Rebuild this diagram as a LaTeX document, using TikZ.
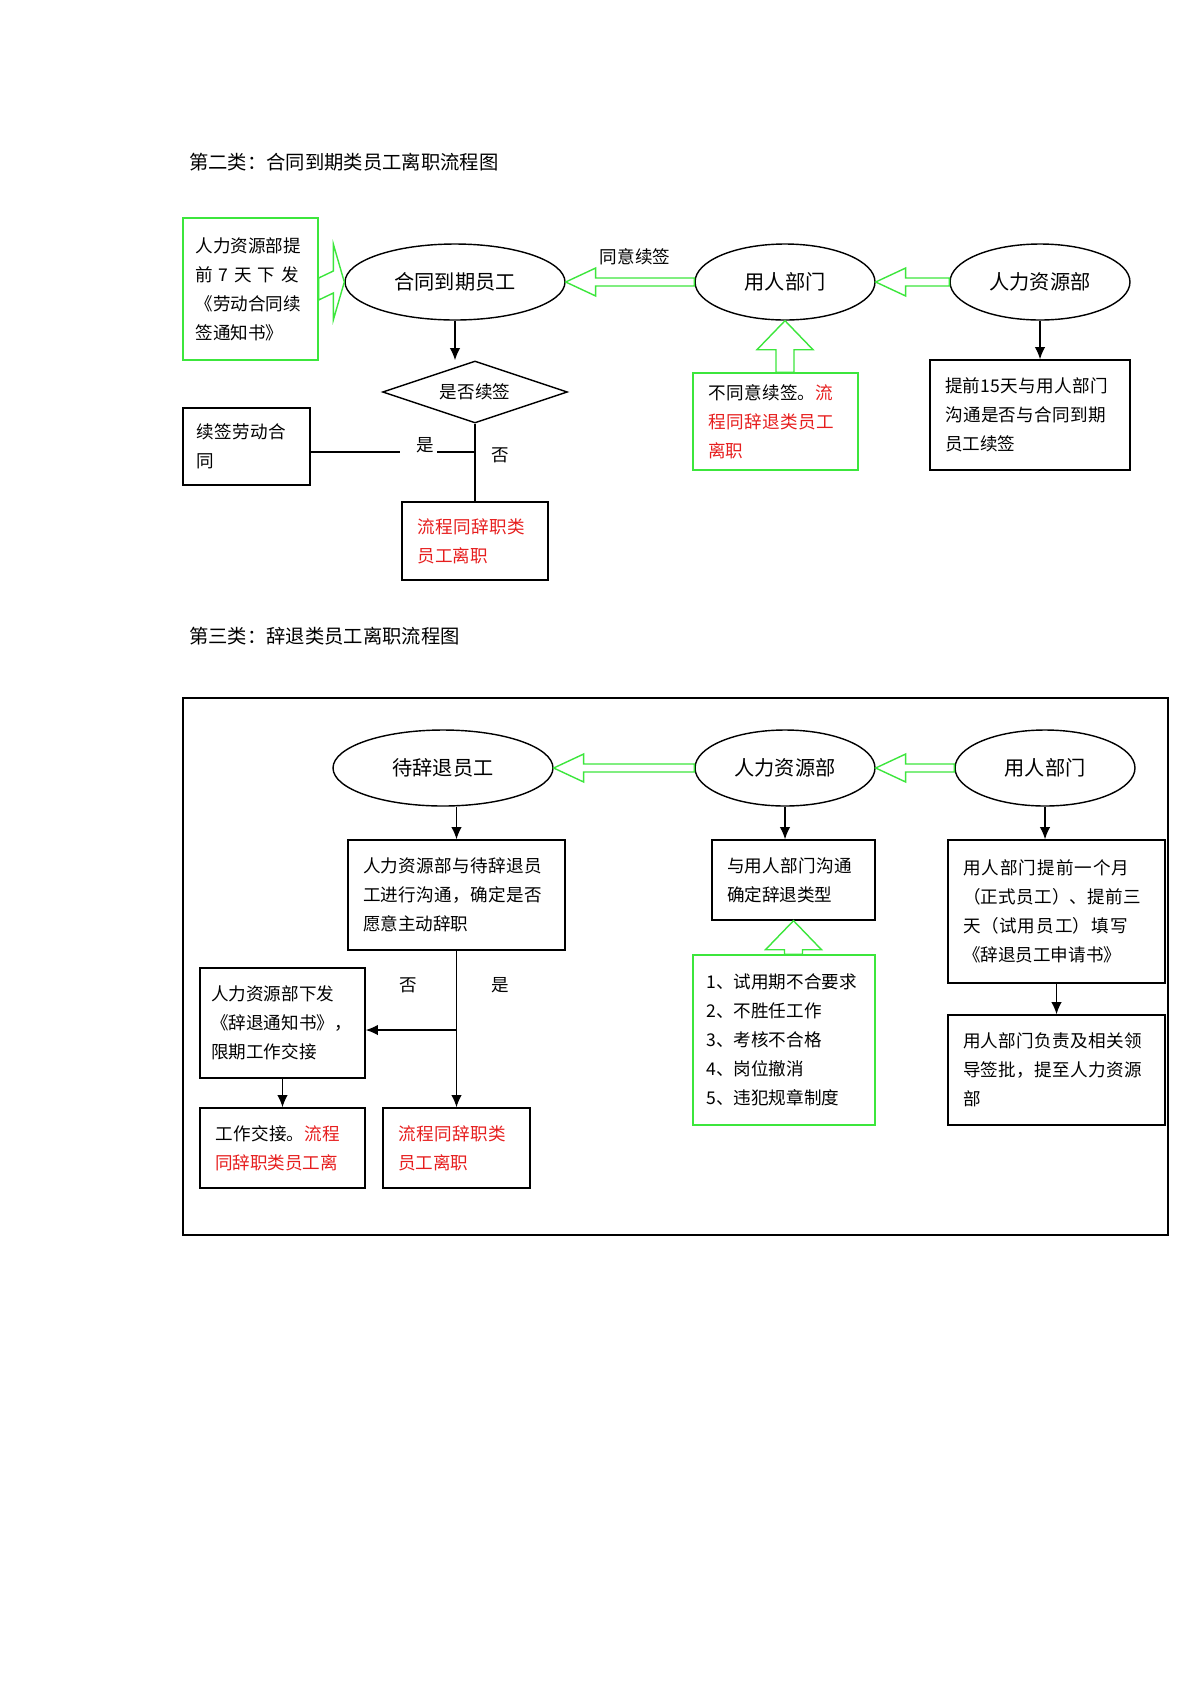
\documentclass[tikz,border=0pt]{standalone}
\usepackage{fontspec}
\setmainfont{Noto Sans CJK SC}
\XeTeXlinebreaklocale "zh"
\XeTeXlinebreakskip=0pt plus 1pt
\usetikzlibrary{shapes.geometric,arrows.meta,calc}
\definecolor{gr}{RGB}{60,230,60}
\definecolor{rd}{RGB}{230,30,30}
\begin{document}
\begin{tikzpicture}[x=0.02cm,y=-0.02cm,
  every node/.style={font=\fontsize{10pt}{16.5pt}\selectfont},
  ell/.style={draw,thick,ellipse,font=\fontsize{11.5pt}{14pt}\selectfont,inner sep=0},
  box/.style={draw,thick,align=left,inner sep=0},
  gbox/.style={draw=gr,thick,align=left,inner sep=0},
  harrow/.style={draw=gr,thick,fill=white},
  arr/.style={thick,-{Latex[length=7pt,width=6pt]}},
  lab/.style={font=\fontsize{10pt}{12pt}\selectfont}]
\useasboundingbox (0,0) rectangle (1200,1698);
\newcommand\hleft[2]{\draw[harrow] (#2.east) -- ($(#2.east)+(30,-14)$) -- ($(#2.east)+(30,-4)$) -- ($(#1.west)+(0,-4)$) -- ($(#1.west)+(0,4)$) -- ($(#2.east)+(30,4)$) -- ($(#2.east)+(30,14)$) -- cycle;}
\newcommand\vup[2]{\draw[harrow] (#2.south) -- ($(#2.south)+(28,29)$) -- ($(#2.south)+(9,29)$) -- ($(#2.south |- #1.north)+(9,0)$) -- ($(#2.south |- #1.north)+(-9,0)$) -- ($(#2.south)+(-9,29)$) -- ($(#2.south)+(-28,29)$) -- cycle;}

\node[anchor=west,font=\fontsize{11pt}{13pt}\selectfont] (t1) at (183,162) {第二类：合同到期类员工离职流程图};
\node[ell,minimum width=4.4cm,minimum height=1.52cm] (e1) at (455,282) {合同到期员工};
\node[ell,minimum width=3.6cm,minimum height=1.52cm] (e2) at (785,282) {用人部门};
\node[ell,minimum width=3.6cm,minimum height=1.52cm] (e3) at (1040,282) {人力资源部};
\node[gbox,minimum width=2.7cm,minimum height=2.84cm,text width=2.2cm] (g1) at (250.5,289) {人力资源部提\\前\ 7\ 天\ 下\ 发\\《劳动合同续\\签通知书》};
\draw[harrow] (e1.west) -- ($(e1.west)+(-11,-38)$) -- ($(e1.west)+(-11,-11)$) -- ($(g1.east)+(0,-11)$) -- ($(g1.east)+(0,11)$) -- ($(e1.west)+(-11,11)$) -- ($(e1.west)+(-11,38)$) -- cycle;
\hleft{e3}{e2}
\hleft{e2}{e1}
\node[lab] (ty) at (635,257) {同意续签};
\node[draw,thick,diamond,aspect=3,minimum width=3.7cm,minimum height=1.24cm,inner sep=0,font=\fontsize{10pt}{12pt}\selectfont] (d1) at (475,392) {是否续签};
\draw[arr] (e1.south) -- (e1.south |- d1.north);
\node[box,minimum width=4.0cm,minimum height=2.2cm,text width=3.4cm] (b15) at (1030,415) {提前15天与用人部门沟通是否与合同到期员工续签};
\draw[arr] (e3.south) -- (e3.south |- b15.north);
\node[gbox,minimum width=3.3cm,minimum height=1.94cm,text width=2.7cm] (g2) at (775.5,421.5) {不同意续签。\textcolor{rd}{流程同辞退类员工离职}};
\vup{g2}{e2}
\node[box,minimum width=2.54cm,minimum height=1.54cm,text width=2.0cm] (bx) at (246.5,446.5) {续签劳动合同};
\node[box,minimum width=2.92cm,minimum height=1.56cm,text width=2.3cm,text=rd] (r1) at (475,541) {流程同辞职类员工离职};
\node[lab] (ys1) at (425,445) {是};
\node[lab] (no1) at (500,455) {否};
\coordinate (j1) at (475,452);
\draw[thick] (bx.east |- j1) -- (400,452);
\draw[thick] (437,452) -- (j1);
\draw[thick] (d1.south) -- (r1.north);

\node[anchor=west,font=\fontsize{11pt}{13pt}\selectfont] (t2) at (183,636) {第三类：辞退类员工离职流程图};
\draw[thick] (183,698) rectangle (1168,1235);
\node[ell,minimum width=4.4cm,minimum height=1.52cm] (f1) at (443,768) {待辞退员工};
\node[ell,minimum width=3.6cm,minimum height=1.52cm] (f2) at (785,768) {人力资源部};
\node[ell,minimum width=3.6cm,minimum height=1.52cm] (f3) at (1045,768) {用人部门};
\hleft{f3}{f2}
\hleft{f2}{f1}
\node[box,minimum width=4.34cm,minimum height=2.2cm,text width=3.74cm] (c1) at (456.5,895) {人力资源部与待辞退员工进行沟通，确定是否愿意主动辞职};
\node[box,minimum width=3.26cm,minimum height=1.6cm,text width=2.66cm] (c2) at (793.5,880) {与用人部门沟通确定辞退类型};
\node[box,minimum width=4.34cm,minimum height=2.86cm,text width=3.74cm] (c3) at (1056.5,911.5) {用人部门提前一个月（正式员工）、提前三天（试用员工）填写《辞退员工申请书》};
\node[box,minimum width=4.34cm,minimum height=2.2cm,text width=3.74cm] (c4) at (1056.5,1070) {用人部门负责及相关领导签批，提至人力资源部};
\draw[arr] (f1.south -| c1.north) -- (c1.north);
\draw[arr] (f2.south) -- (f2.south |- c2.north);
\draw[arr] (c3.south) -- (c4.north);
\draw[arr] (f3.south) -- (f3.south |- c3.north);
\node[gbox,minimum width=3.64cm,minimum height=3.4cm,text width=3.1cm] (g3) at (784,1040) {1、试用期不合要求\\2、不胜任工作\\3、考核不合格\\4、岗位撤消\\5、违犯规章制度};
\vup{g3}{c2}
\node[box,minimum width=3.3cm,minimum height=2.2cm,text width=2.85cm] (l1) at (282.5,1023) {人力资源部下发\\《辞退通知书》，\\限期工作交接};
\node[box,minimum width=3.3cm,minimum height=1.6cm,text width=2.7cm] (l2) at (282.5,1148) {工作交接。\textcolor{rd}{流程同辞职类员工离}};
\node[box,minimum width=2.94cm,minimum height=1.6cm,text width=2.34cm,text=rd] (r2) at (456.5,1148) {流程同辞职类员工离职};
\coordinate (j2) at (456.5,1030);
\draw[arr] (c1.south) -- (r2.north);
\draw[arr] (j2) -- (j2 -| l1.east);
\draw[arr] (l1.south) -- (l2.north);
\node[lab] (no2) at (408,985) {否};
\node[lab] (ys2) at (500,985) {是};
\end{tikzpicture}
\end{document}
